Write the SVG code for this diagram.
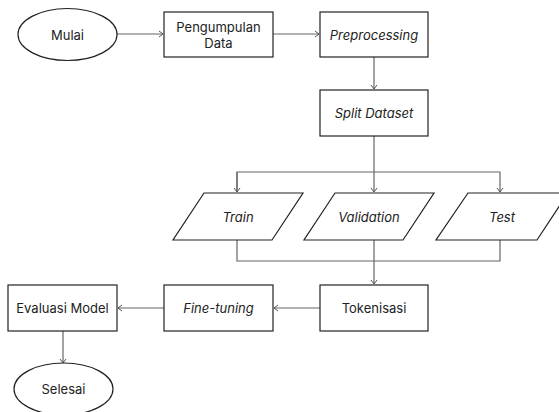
<svg xmlns="http://www.w3.org/2000/svg" width="559" height="412" viewBox="0 0 559 412">
<defs>
<style>
.n{fill:#fff;stroke:#222;stroke-width:1.2}
.t{font-family:Inter,"Liberation Sans",sans-serif;font-size:13px;fill:#222;text-anchor:middle;dominant-baseline:central}
.i{font-style:italic}
.c{fill:none;stroke:#666;stroke-width:1.2}
</style>
<marker id="a" markerWidth="8" markerHeight="8" refX="6" refY="4" orient="auto" markerUnits="userSpaceOnUse">
<path d="M2,1 L6,4 L2,7" fill="none" stroke="#555" stroke-width="1"/>
</marker>
</defs>
<rect width="559" height="412" fill="#fff"/>
<g id="connectors">
<path class="c" d="M117,34 H163" marker-end="url(#a)"/>
<path class="c" d="M273,34 H319" marker-end="url(#a)"/>
<path class="c" d="M374,57 V89" marker-end="url(#a)"/>
<path class="c" d="M374,136 V192" marker-end="url(#a)"/>
<path class="c" d="M237,192 V172 H500 V192" marker-end="url(#a)"/>
<path class="c" d="M237,172 V192" marker-end="url(#a)"/>
<path class="c" d="M237,240 V261 H500 V240"/>
<path class="c" d="M374,240 V284" marker-end="url(#a)"/>
<path class="c" d="M320,308 H274" marker-end="url(#a)"/>
<path class="c" d="M164,308 H118" marker-end="url(#a)"/>
<path class="c" d="M63,331 V363" marker-end="url(#a)"/>
</g>
<g id="mulai"><ellipse class="n" cx="67.5" cy="34.5" rx="49.5" ry="26"/><text class="t" x="67.5" y="34.5">Mulai</text></g>
<g id="pengumpulan"><rect class="n" x="164" y="12" width="109" height="45"/><text class="t" x="218.5" y="27">Pengumpulan</text><text class="t" x="218.5" y="43">Data</text></g>
<g id="preprocessing"><rect class="n" x="320" y="12" width="108" height="45"/><text class="t i" x="374" y="34.5">Preprocessing</text></g>
<g id="split"><rect class="n" x="320" y="90" width="108" height="46"/><text class="t i" x="374" y="113">Split Dataset</text></g>
<g id="train"><polygon class="n" points="204,193 303,193 272,240 173,240"/><text class="t i" x="238" y="216.5">Train</text></g>
<g id="validation"><polygon class="n" points="335,193 434,193 403,240 304,240"/><text class="t i" x="369" y="216.5">Validation</text></g>
<g id="test"><polygon class="n" points="468,193 568,193 537,240 436,240"/><text class="t i" x="502" y="216.5">Test</text></g>
<g id="tokenisasi"><rect class="n" x="320" y="285" width="108" height="46"/><text class="t" x="374" y="308">Tokenisasi</text></g>
<g id="finetuning"><rect class="n" x="164" y="285" width="109" height="46"/><text class="t i" x="218.5" y="308">Fine-tuning</text></g>
<g id="evaluasi"><rect class="n" x="8" y="285" width="109" height="46"/><text class="t" x="62.5" y="308">Evaluasi Model</text></g>
<g id="selesai"><ellipse class="n" cx="63.5" cy="389" rx="49.5" ry="26"/><text class="t" x="63.5" y="389">Selesai</text></g>
</svg>
